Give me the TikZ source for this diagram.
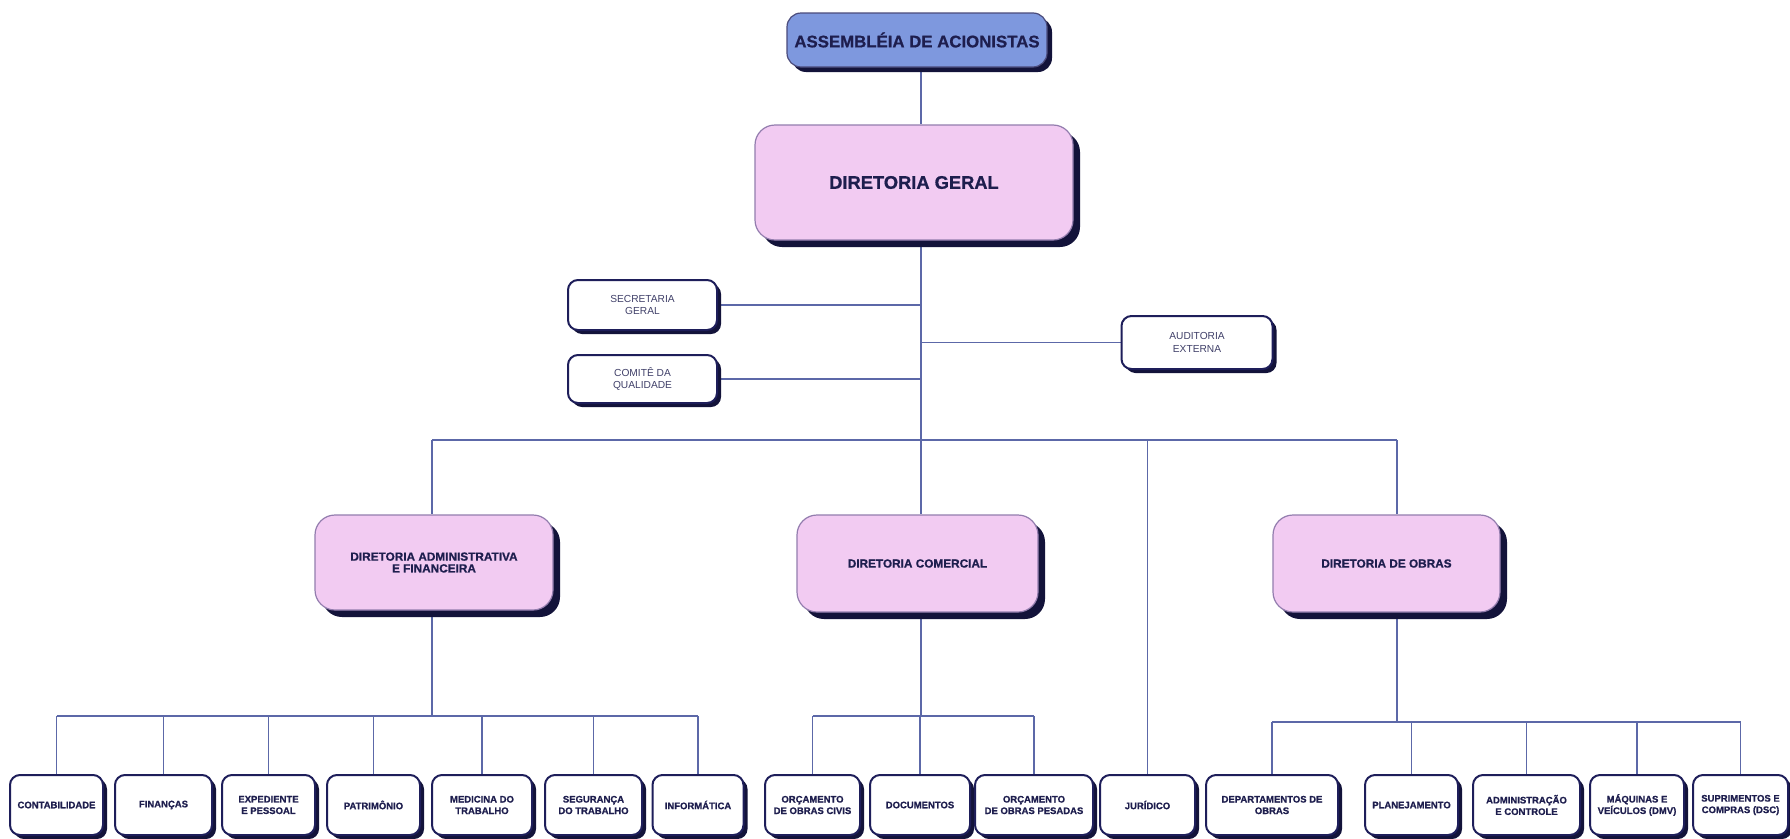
\documentclass[tikz,border=0pt]{standalone}
\usepackage{fontspec}
\setmainfont{Liberation Sans}[BoldFeatures={FakeBold=0.8}]
\usetikzlibrary{shadows,backgrounds}
\definecolor{lnc}{HTML}{5C68A8}
\definecolor{pinkf}{HTML}{F2CBF2}
\definecolor{bluef}{HTML}{7E98DE}
\definecolor{shd}{HTML}{13133A}
\definecolor{txt}{HTML}{1E1E4E}
\definecolor{edge}{HTML}{1E1E5A}
\begin{document}
\begin{tikzpicture}[x=1pt,y=-1pt,
  shdw/.style={drop shadow={shadow xshift=#1, shadow yshift=-#1, fill=shd, opacity=1}},
  topbox/.style={rectangle, inner sep=0pt, align=center, text=txt, draw=edge!80, line width=1.2pt,
    fill=bluef, rounded corners=14pt, shdw=5pt, font=\bfseries\fontsize{16.8}{20}\selectfont},
  mainbox/.style={rectangle, inner sep=0pt, align=center, text=txt, draw=edge!45!pinkf, line width=1.2pt,
    fill=pinkf, rounded corners=20pt, shdw=7pt, font=\bfseries\fontsize{11.8}{11.8}\selectfont},
  staffbox/.style={rectangle, inner sep=0pt, align=center, text=txt!85, draw=edge, line width=2pt,
    fill=white, rounded corners=10pt, shdw=4pt, font=\fontsize{10.2}{12.5}\selectfont},
  unitbox/.style={rectangle, inner sep=0pt, align=center, text=txt, draw=edge, line width=2pt,
    fill=white, rounded corners=10pt, shdw=4pt, minimum height=60pt, font=\bfseries\fontsize{9.5}{11.5}\selectfont},
  conn/.style={draw=lnc, line width=1.4pt}]
\useasboundingbox (0,0) rectangle (1790,838);

% top levels
\node[topbox, minimum width=260pt, minimum height=54pt] (asm) at (917,40) {ASSEMBLÉIA DE ACIONISTAS};
\node[mainbox, minimum width=318pt, minimum height=115pt, font=\bfseries\fontsize{18.3}{20}\selectfont] (dg) at (914,182.5) {DIRETORIA GERAL};
\node[staffbox, minimum width=149pt, minimum height=50pt] (sec) at (642.5,305) {SECRETARIA\\GERAL};
\node[staffbox, minimum width=149pt, minimum height=48pt] (com) at (642.5,379) {COMITÊ DA\\QUALIDADE};
\node[staffbox, minimum width=151pt, minimum height=53pt] (aud) at (1197,342.5) {AUDITORIA\\EXTERNA};
\node[mainbox, minimum width=238pt, minimum height=95pt] (daf) at (434,562.5) {DIRETORIA ADMINISTRATIVA\\E FINANCEIRA};
\node[mainbox, minimum width=241pt, minimum height=97pt] (dcom) at (917.5,563.5) {DIRETORIA COMERCIAL};
\node[mainbox, minimum width=227pt, minimum height=97pt] (dob) at (1386.5,563.5) {DIRETORIA DE OBRAS};

% bottom row
\node[unitbox, minimum width=93pt]  (cont) at (56.5,805)   {CONTABILIDADE};
\node[unitbox, minimum width=97pt]  (fin)  at (163.5,805)  {FINANÇAS};
\node[unitbox, minimum width=93pt]  (exp)  at (268.5,805)  {EXPEDIENTE\\E PESSOAL};
\node[unitbox, minimum width=93pt]  (pat)  at (373.5,805)  {PATRIMÔNIO};
\node[unitbox, minimum width=100pt] (med)  at (482,805)    {MEDICINA DO\\TRABALHO};
\node[unitbox, minimum width=97pt]  (seg)  at (593.5,805)  {SEGURANÇA\\DO TRABALHO};
\node[unitbox, minimum width=91pt]  (inf)  at (698,805)    {INFORMÁTICA};
\node[unitbox, minimum width=95pt]  (ocv)  at (812.5,805)  {ORÇAMENTO\\DE OBRAS CIVIS};
\node[unitbox, minimum width=100pt] (doc)  at (920,805)    {DOCUMENTOS};
\node[unitbox, minimum width=118pt] (opes) at (1034,805)   {ORÇAMENTO\\DE OBRAS PESADAS};
\node[unitbox, minimum width=95pt]  (jur)  at (1147.5,805) {JURÍDICO};
\node[unitbox, minimum width=132pt] (dep)  at (1272,805)   {DEPARTAMENTOS DE\\OBRAS};
\node[unitbox, minimum width=93pt]  (pla)  at (1411.5,805) {PLANEJAMENTO};
\node[unitbox, minimum width=107pt] (adm)  at (1526.5,805) {ADMINISTRAÇÃO\\E CONTROLE};
\node[unitbox, minimum width=94pt]  (maq)  at (1637,805)   {MÁQUINAS E\\VEÍCULOS (DMV)};
\node[unitbox, minimum width=95pt]  (sup)  at (1740.5,805) {SUPRIMENTOS E\\COMPRAS (DSC)};

\begin{pgfonlayer}{background}
\fill[white] (0,0) rectangle (1790,838);
\coordinate (sp) at (921,440);
\coordinate (bL) at (432,440);
\coordinate (bR) at (1397,440);
\coordinate (bJ) at (1147.5,440);
\draw[conn] (asm.south -| sp) -- (dg.north -| sp);
\draw[conn] (dg.south -| sp) -- (sp);
\draw[conn] (sec.east) -- (sec.east -| sp);
\draw[conn] (com.east) -- (com.east -| sp);
\draw[conn] (aud.west) -- (aud.west -| sp);
\draw[conn] (bL) -- (bR);
\draw[conn] (bL) -- (bL |- daf.north);
\draw[conn] (sp) -- (sp |- dcom.north);
\draw[conn] (bR) -- (bR |- dob.north);
\draw[conn] (bJ) -- (jur.north);
% DAF sub-bus
\coordinate (ya) at (432,716);
\draw[conn] (daf.south -| ya) -- (ya);
\draw[conn] (cont.north |- ya) -- (inf.north |- ya);
\foreach \n in {cont,fin,exp,pat,med,seg,inf} \draw[conn] (\n.north |- ya) -- (\n.north);
% commercial sub-bus
\coordinate (yc) at (921,716);
\draw[conn] (dcom.south -| yc) -- (yc);
\draw[conn] (ocv.north |- yc) -- (opes.north |- yc);
\foreach \n in {ocv,doc,opes} \draw[conn] (\n.north |- yc) -- (\n.north);
% obras sub-bus
\coordinate (yo) at (1397,722);
\draw[conn] (dob.south -| yo) -- (yo);
\draw[conn] (dep.north |- yo) -- (sup.north |- yo);
\foreach \n in {dep,pla,adm,maq,sup} \draw[conn] (\n.north |- yo) -- (\n.north);
\end{pgfonlayer}
\end{tikzpicture}
\end{document}
